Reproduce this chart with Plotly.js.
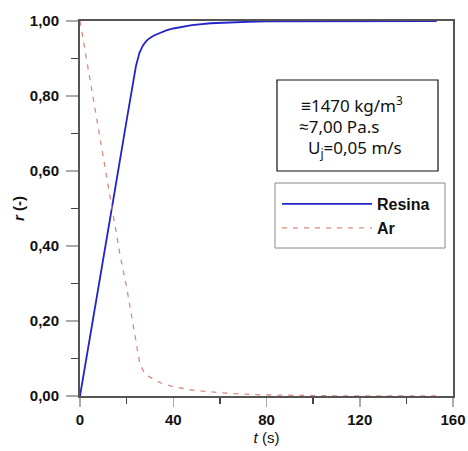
<!DOCTYPE html>
<html><head><meta charset="utf-8">
<script src="https://cdn.plot.ly/plotly-3.0.1.min.js"></script>
<style>html,body{margin:0;padding:0;background:#fff}#c{width:468px;height:451px}</style>
</head><body><div id="c"></div>
<script>
var tResina = [0, 5, 10, 15, 20, 24, 25.5, 27, 28.5, 30, 32, 34, 37, 40, 44, 48, 56, 64, 72, 80, 100, 120, 140, 153];
var rResina = [0, 0.18, 0.37, 0.55, 0.735, 0.88, 0.915, 0.935, 0.947, 0.955, 0.962, 0.968, 0.975, 0.98, 0.985, 0.989, 0.994, 0.997, 0.998, 0.999, 0.9995, 1.0, 1.0, 1.0];
var tAr = [0, 5, 10, 13.6, 17.2, 20, 22.2, 24, 25.7, 27.5, 29.3, 32, 35, 40, 48, 56, 64, 77, 90, 110, 130, 153];
var rAr = [1.0, 0.82, 0.635, 0.505, 0.375, 0.29, 0.21, 0.14, 0.085, 0.063, 0.053, 0.043, 0.034, 0.025, 0.016, 0.011, 0.007, 0.003, 0.0015, 0.0005, 0.0, 0.0];
var xTicks = [0, 40, 80, 120, 160];
var yTicks = [0, 0.2, 0.4, 0.6, 0.8, 1.0];
var seriesNames = ['Resina', 'Ar'];
var boxLines = ['≡1470 kg/m<sup>3</sup>', '≈7,00 Pa.s', 'U<sub>j</sub>=0,05 m/s'];

function px(x) { return (x - 80) / 373; }
function py(y) { return (396 - y) / 375; }

var traces = [
  {x: tResina, y: rResina, name: seriesNames[0], mode: 'lines', type: 'scatter', legend: 'legend',
   line: {color: '#2424c8', width: 1.8}},
  {x: tAr, y: rAr, name: seriesNames[1], mode: 'lines', type: 'scatter', legend: 'legend2',
   line: {color: '#d98a80', width: 1.3, dash: '5px,6px'}}
];

var tickFont = {family: 'Liberation Sans, Arial, sans-serif', size: 15, color: '#111', weight: 'bold'};
var axCommon = {
  showline: true, linecolor: '#555', linewidth: 2, mirror: true,
  showgrid: false, zeroline: false, ticks: 'outside', tickwidth: 1.5, tickcolor: '#aaa',
  tickfont: tickFont
};
var legFont = {family: 'Liberation Sans, Arial, sans-serif', size: 16, color: '#111', weight: 'bold'};

var layout = {
  width: 468, height: 451,
  margin: {l: 80, r: 15, t: 21, b: 55},
  paper_bgcolor: '#fff', plot_bgcolor: '#fff',
  showlegend: true,
  separators: ',.',
  xaxis: Object.assign({}, axCommon, {
    range: [0, 160], tickvals: xTicks, ticktext: xTicks.map(String),
    ticklen: 9, ticklabelstandoff: 0,
    minor: {dtick: 20, tick0: 0, ticks: 'outside', ticklen: 6, tickwidth: 1.5, tickcolor: '#444'},
    title: {text: '<i>t</i> (s)', font: {family: 'Liberation Sans, Arial, sans-serif', size: 15, color: '#111'}, standoff: 5}
  }),
  yaxis: Object.assign({}, axCommon, {
    range: [0, 1.0], tickvals: yTicks, tickformat: '.2f',
    ticklen: 12, ticklabelstandoff: 4,
    minor: {dtick: 0.1, tick0: 0, ticks: 'outside', ticklen: 7, tickwidth: 1.5, tickcolor: '#444'},
    title: {text: '<b><i>r</i> (-)</b>', font: {family: 'Liberation Sans, Arial, sans-serif', size: 15, color: '#111'}, standoff: 2}
  }),
  legend: {
    x: px(277), y: py(204), xanchor: 'left', yanchor: 'middle',
    bgcolor: 'rgba(0,0,0,0)', borderwidth: 0, font: legFont, itemwidth: 90
  },
  legend2: {
    x: px(277), y: py(228), xanchor: 'left', yanchor: 'middle',
    bgcolor: 'rgba(0,0,0,0)', borderwidth: 0, font: legFont, itemwidth: 90
  },
  shapes: [
    {type: 'rect', xref: 'paper', yref: 'paper', x0: px(277), x1: px(438), y0: py(171), y1: py(80),
     line: {color: '#111', width: 1.2}, fillcolor: 'rgba(0,0,0,0)'},
    {type: 'rect', xref: 'paper', yref: 'paper', x0: px(275), x1: px(445), y0: py(248), y1: py(183),
     line: {color: '#888', width: 1}, fillcolor: 'rgba(0,0,0,0)'}
  ],
  annotations: boxLines.map(function (s, i) {
    return {xref: 'paper', yref: 'paper', x: px([299, 297, 306][i]), y: py([105, 127, 148][i]), xanchor: 'left', yanchor: 'middle',
      text: s, showarrow: false, align: 'left',
      font: {family: 'Noto Sans, Open Sans, sans-serif', size: 17, color: '#111'}};
  })
};

Plotly.newPlot('c', traces, layout, {displayModeBar: false, staticPlot: true});
</script></body></html>
